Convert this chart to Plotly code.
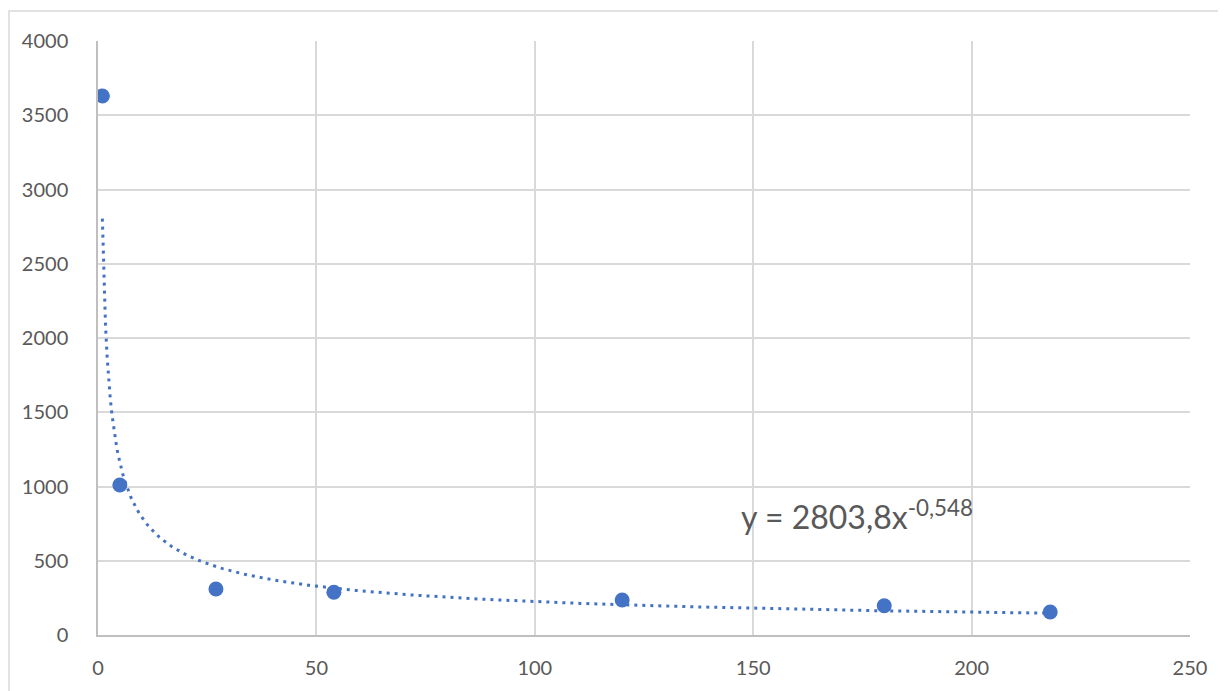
import numpy as np
import plotly.graph_objects as go

x_vals = [1, 5, 27, 54, 120, 180, 218]
y_vals = [3630, 1010, 310, 288, 236, 197, 155]

trend_a = 2803.8
trend_b = -0.548
trend_label = "y = 2803,8x<sup>-0,548</sup>"

x_ticks = [0, 50, 100, 150, 200, 250]
y_ticks = [0, 500, 1000, 1500, 2000, 2500, 3000, 3500, 4000]

blue = "#4472C4"
tx = np.linspace(min(x_vals), max(x_vals), 600)
ty = trend_a * tx ** trend_b

fig = go.Figure()
fig.add_trace(go.Scatter(x=tx, y=ty, mode="lines",
                         line=dict(color=blue, width=3, dash="3px,5px"),
                         hoverinfo="skip", showlegend=False))
fig.add_trace(go.Scatter(x=x_vals, y=y_vals, mode="markers",
                         marker=dict(color=blue, size=15),
                         showlegend=False))

fig.add_annotation(x=173.7, y=808, xref="x", yref="y", text=trend_label,
                   showarrow=False, font=dict(size=32, color="#595959", family="Lato"))

fig.add_shape(type="rect", xref="paper", yref="paper",
              x0=-0.0815, x1=1.2, y0=-0.3, y1=1.0505,
              line=dict(color="#d9d9d9", width=1.5), layer="below")

fig.update_layout(
    width=1226, height=691,
    margin=dict(l=90, r=44, t=33, b=64),
    plot_bgcolor="white", paper_bgcolor="white",
    font=dict(family="Lato", size=20, color="#595959"),
    xaxis=dict(range=[0, 250], tickvals=x_ticks, showgrid=True, gridcolor="#d9d9d9",
               gridwidth=1.5, zeroline=False, showline=True, linecolor="#bfbfbf",
               linewidth=1.5, ticklabelstandoff=14, fixedrange=True),
    yaxis=dict(range=[0, 4000], tickvals=y_ticks, showgrid=True, gridcolor="#d9d9d9",
               gridwidth=1.5, zeroline=False, showline=True, linecolor="#bfbfbf",
               linewidth=1.5, ticklabelstandoff=24, fixedrange=True),
)

fig.write_html("out.html")
